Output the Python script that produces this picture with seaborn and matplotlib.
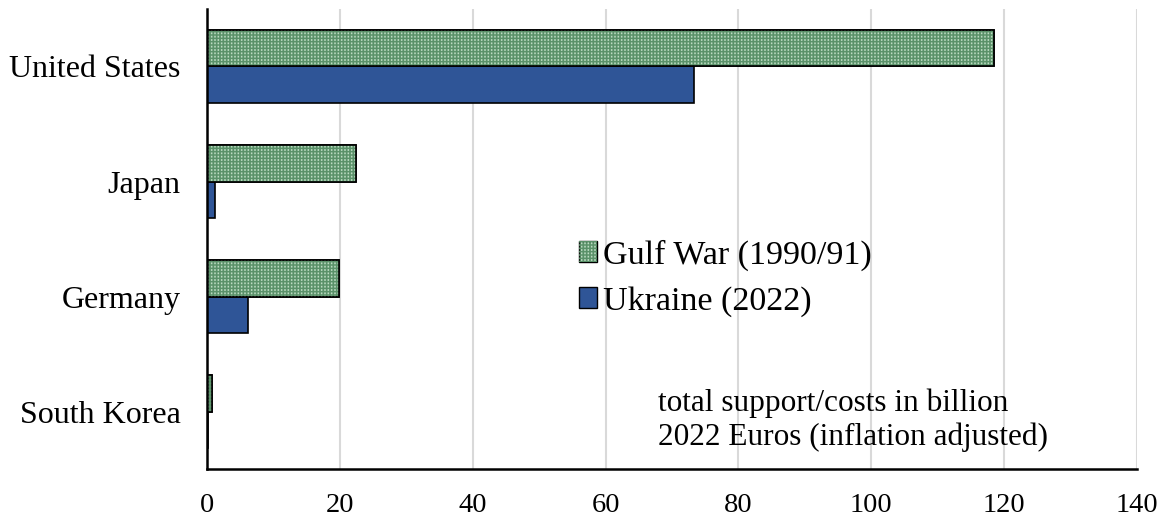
import matplotlib
matplotlib.use("Agg")
import matplotlib.pyplot as plt
import matplotlib.patches as mpatches
from matplotlib.legend_handler import HandlerTuple
import seaborn as sns
import pandas as pd

countries = ["United States", "Japan", "Germany", "South Korea"]
gulf_war = [118.5, 22.4, 19.9, 0.8]
ukraine = [73.3, 1.2, 6.2, 0.2]
series_names = ["Gulf War (1990/91)", "Ukraine (2022)"]
x_ticks = [0, 20, 40, 60, 80, 100, 120, 140]

df = pd.DataFrame({
    "country": countries * 2,
    "value": gulf_war + ukraine,
    "series": [series_names[0]] * len(countries) + [series_names[1]] * len(countries),
})

GREEN = "#5a9169"
GREEN_LIGHT = "#bcdcc2"
BLUE = "#2f5597"

sns.set_style("white")
plt.rcParams["font.family"] = ["Liberation Serif", "DejaVu Serif"]
plt.rcParams["text.color"] = "black"
plt.rcParams["xtick.color"] = "black"
plt.rcParams["ytick.color"] = "black"
plt.rcParams["hatch.linewidth"] = 1.1

fig = plt.figure(figsize=(11.68, 5.17), dpi=100)
ax = fig.add_axes([0.1772, 0.0928, 0.7963, 0.8898])

sns.barplot(data=df, y="country", x="value", hue="series", orient="h",
            palette=[GREEN, BLUE], saturation=1, width=0.63, edgecolor="black",
            linewidth=1.2, ax=ax, legend=False, zorder=2)


def texture(xy, w, h, z):
    """Dotted light-green stripes laid over a green bar."""
    stripes = mpatches.Rectangle(xy, w, h, fill=False, edgecolor=GREEN_LIGHT,
                                 linewidth=0, hatch="|||||", zorder=z)
    breaks = mpatches.Rectangle(xy, w, h, fill=False, edgecolor=GREEN,
                                linewidth=0, hatch="-----", zorder=z + 0.01)
    return stripes, breaks


n = len(countries)
for p in list(ax.patches[:n]):
    for r in texture(p.get_xy(), p.get_width(), p.get_height(), 2.1):
        ax.add_patch(r)
    ax.add_patch(mpatches.Rectangle(p.get_xy(), p.get_width(), p.get_height(),
                                    fill=False, edgecolor="black", linewidth=1.2,
                                    zorder=2.2))

ax.set_xlim(0, 140)
ax.set_ylim(3.5, -0.5)
ax.set_xticks(x_ticks)
ax.set_xticklabels([str(t) for t in x_ticks])
ax.set_xlabel("")
ax.set_ylabel("")

ax.set_axisbelow(True)
ax.xaxis.grid(True, color="#d9d9d9", linewidth=1.5)
ax.yaxis.grid(False)

for side in ["top", "right"]:
    ax.spines[side].set_visible(False)
for side in ["left", "bottom"]:
    ax.spines[side].set_color("black")
    ax.spines[side].set_linewidth(1.8)

ax.tick_params(axis="x", length=0, pad=17, labelsize=20.5)
ax.tick_params(axis="y", length=0, pad=19, labelsize=23)

gulf_face = mpatches.Patch(facecolor=GREEN, edgecolor="black", linewidth=1.0)
gulf_stripes = mpatches.Patch(fill=False, edgecolor=GREEN_LIGHT, linewidth=0, hatch="|||||")
gulf_breaks = mpatches.Patch(fill=False, edgecolor=GREEN, linewidth=0, hatch="-----")
ukr_face = mpatches.Patch(facecolor=BLUE, edgecolor="black", linewidth=1.0)
ax.legend([(gulf_face, gulf_stripes, gulf_breaks), ukr_face], series_names,
          handler_map={tuple: HandlerTuple(ndivide=1)},
          loc="center left", bbox_to_anchor=(0.385, 0.415),
          frameon=False, fontsize=24.5, handlelength=0.55, handleheight=0.55,
          handletextpad=0.17, labelspacing=0.45, borderaxespad=0)

ax.text(0.485, 0.106, "total support/costs in billion\n2022 Euros (inflation adjusted)",
        transform=ax.transAxes, fontsize=22.5, ha="left", va="center",
        linespacing=1.22)

fig.savefig("out.png", dpi=100)
